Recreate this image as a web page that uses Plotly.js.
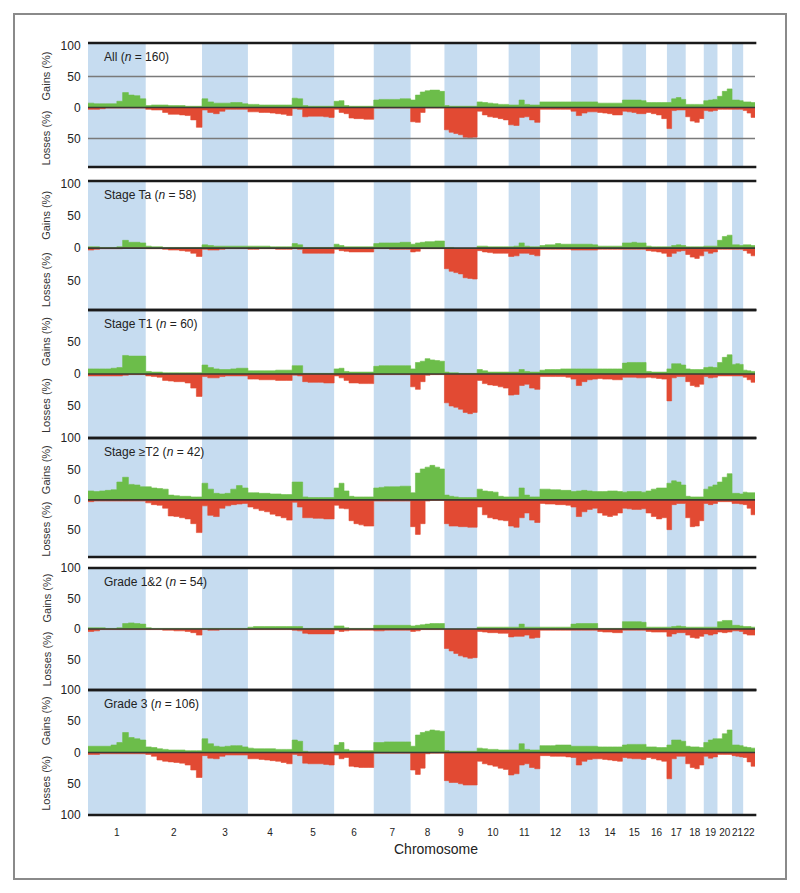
<!DOCTYPE html>
<html>
<head>
<meta charset="utf-8">
<script src="https://cdn.plot.ly/plotly-3.0.1.min.js"></script>
<style>
html,body{margin:0;padding:0;background:#ffffff;}
#chart{width:800px;height:893px;}
</style>
</head>
<body>
<div id="chart"></div>
<script>
// ---------------- DATA ----------------
const chromLabels = ['1','2','3','4','5','6','7','8','9','10','11','12','13','14','15','16','17','18','19','20','21','22'];
const chromLengthsMb = [249,243,198,191,181,171,159,146,141,136,135,134,115,107,102,90,81,78,59,63,48,51];
// number of equal-width segments each chromosome's profile is read at
const binsPerChrom = [10,10,8,8,8,8,7,7,7,6,6,6,5,5,5,4,4,4,3,3,3,3];

const panelNames = ['All','Stage Ta','Stage T1','Stage \u2265T2','Grade 1&2','Grade 3'];
const panelN = [160,58,60,42,54,106];

// Percent of tumours with gain / loss, per chromosome segment
const gainsAll = [
 [7,6,6,6,6,10,24,20,19,14],[3,4,4,4,3,3,3,2,2,2],[14,9,7,7,7,8,8,6],[5,5,4,4,4,4,4,4],
 [15,14,3,2,2,2,2,2],[10,11,3,2,2,2,2,2],[12,13,13,13,13,14,14],[12,20,25,27,28,28,26],
 [3,2,2,2,2,2,2],[9,8,7,6,5,5],[4,4,12,5,4,4],[9,9,9,9,9,9],[9,9,9,9,9],[7,7,7,7,7],
 [12,12,12,12,11],[8,8,8,8],[8,14,16,13],[5,5,5,5],[11,12,13],[18,26,30],[12,12,11],[9,9,8]
];
const lossesAll = [
 [3,3,2,1,1,1,1,1,1,1],[3,4,4,8,11,11,12,13,20,32],[4,8,10,6,3,3,3,3],[7,7,8,8,9,10,11,13],
 [2,3,15,14,14,14,15,16],[3,8,10,17,18,18,19,19],[1,1,1,1,1,1,1],[23,24,8,1,1,1,1],
 [36,40,42,44,48,49,48],[6,12,15,16,18,20],[28,29,16,15,20,24],[3,3,3,3,3,3],[6,13,9,7,7],
 [8,9,10,12,12],[6,7,8,10,10],[8,10,12,18],[34,5,4,4],[15,22,24,18],[5,6,5],[3,3,3],[3,3,3],[5,9,16]
];

const gainsTa = [
 [2,2,1,1,1,2,12,9,9,8],[3,2,2,1,1,1,1,1,1,1],[5,4,3,3,3,3,3,3],[3,3,3,3,2,2,2,2],
 [7,5,1,1,1,1,1,1],[6,4,2,2,2,2,2,2],[7,8,8,8,8,9,9],[6,8,9,10,10,11,11],
 [1,1,0,0,0,0,0],[3,3,2,2,2,2],[2,3,8,3,2,2],[4,5,5,7,6,6],[6,6,6,6,5],[3,3,3,3,3],
 [8,8,9,8,8],[3,2,2,2],[2,4,5,4],[2,2,2,2],[3,3,3],[12,18,20],[5,5,4],[5,5,4]
];
const lossesTa = [
 [3,2,1,1,1,1,0,0,0,0],[1,1,1,2,3,3,4,5,8,13],[2,3,3,2,1,1,1,1],[2,2,1,1,1,2,2,2],
 [1,2,8,8,8,8,8,8],[2,4,5,6,6,6,6,6],[1,1,1,2,2,2,2],[6,5,1,1,1,1,1],
 [32,36,38,40,46,47,48],[4,6,7,8,8,8],[13,12,8,8,10,12],[2,2,2,2,2,2],[3,3,3,3,3],
 [2,2,2,2,2],[2,2,2,2,2],[4,5,6,8],[13,8,5,4],[10,14,16,12],[5,8,6],[2,2,2],[2,2,2],[4,8,12]
];

const gainsT1 = [
 [8,8,8,8,9,10,29,28,28,28],[4,3,3,2,2,2,2,2,2,2],[14,10,8,7,7,8,9,9],[5,5,5,5,5,6,6,6],
 [13,13,1,1,1,1,1,1],[8,9,4,3,3,3,3,3],[12,13,13,13,13,13,13],[8,18,20,24,22,21,20],
 [3,2,2,1,1,1,1],[7,5,3,3,3,3],[3,3,7,4,3,3],[6,7,7,7,8,8],[8,8,8,8,8],[8,8,8,8,8],
 [17,18,18,18,18],[4,3,3,3],[8,16,16,14],[8,7,7,7],[10,11,10],[18,26,30],[15,16,15],[6,5,4]
];
const lossesT1 = [
 [3,3,3,3,3,3,2,1,1,1],[3,4,5,10,11,12,12,14,22,35],[4,6,6,4,3,3,3,3],[8,8,9,9,9,10,10,10],
 [2,3,12,13,13,13,14,14],[3,6,10,14,14,15,15,15],[1,1,1,1,1,1,1],[20,24,12,2,1,1,1],
 [45,50,52,55,60,62,60],[10,15,17,18,20,22],[33,32,18,16,22,24],[4,4,4,4,4,5],[8,18,12,9,8],
 [7,8,8,9,9],[5,5,5,6,6],[5,6,7,8],[42,6,4,4],[12,18,20,16],[4,6,5],[3,3,3],[3,3,3],[5,9,13]
];

const gainsT2 = [
 [15,14,15,16,17,30,38,26,25,22],[22,20,19,18,8,7,6,6,5,5],[28,18,11,10,11,18,24,20],[12,12,11,11,10,10,9,9],
 [30,30,5,4,4,4,4,4],[20,28,15,6,5,5,5,5],[20,21,22,22,22,23,23],[12,45,52,55,58,55,52],
 [8,6,5,4,4,4,4],[18,15,14,13,6,5],[5,5,20,8,5,5],[18,18,17,17,16,16],[14,15,16,15,14],
 [14,14,15,15,14],[13,14,14,14,13],[15,18,20,20],[28,32,30,25],[6,5,5,5],[18,22,25],[30,38,44],[11,11,10],[13,12,12]
];
const lossesT2 = [
 [3,2,2,2,2,2,2,2,2,2],[5,8,9,14,27,28,30,32,40,55],[10,26,28,14,10,8,7,6],[12,15,18,20,24,27,30,34],
 [4,12,30,30,31,31,32,32],[9,14,15,35,40,42,44,44],[2,2,2,2,2,2,2],[45,58,40,2,1,1,1],
 [40,44,44,45,45,46,46],[12,25,30,32,34,35],[44,46,30,22,34,38],[6,7,7,8,8,9],[12,28,20,16,14],
 [22,26,28,26,22],[14,15,16,16,15],[22,28,32,30],[50,8,6,6],[30,45,44,35],[6,8,6],[3,3,3],[6,6,7],[8,14,25]
];

const gainsG12 = [
 [2,2,2,1,1,2,9,10,9,8],[2,1,1,1,1,1,1,1,1,1],[1,1,1,1,1,1,1,1],[3,4,4,4,4,4,4,4],
 [4,4,1,1,1,1,1,1],[5,5,2,1,1,1,1,1],[6,6,6,6,6,6,6],[5,6,7,8,9,9,9],
 [0,0,0,0,0,0,0],[3,3,3,3,3,3],[3,3,8,3,3,3],[3,3,3,3,3,3],[8,9,9,9,9],[1,1,1,1,1],
 [12,12,12,12,11],[3,3,3,3],[3,4,5,4],[3,3,3,3],[3,3,3],[12,14,14],[6,6,5],[4,4,3]
];
const lossesG12 = [
 [4,3,1,1,1,1,1,1,1,1],[1,1,1,2,2,3,3,4,6,10],[1,2,2,1,1,1,1,1],[1,1,1,1,1,1,1,1],
 [2,3,7,8,8,8,8,8],[2,4,3,2,2,2,2,2],[3,3,2,2,2,2,2],[4,3,1,1,1,1,1],
 [32,36,40,44,46,48,47],[4,5,6,6,7,7],[13,12,12,10,15,14],[2,2,2,2,2,2],[2,2,2,2,2],
 [4,5,5,6,6],[2,2,2,2,2],[4,5,5,5],[12,8,6,6],[10,14,15,12],[8,10,8],[5,6,5],[3,3,4],[8,10,10]
];

const gainsG3 = [
 [10,10,10,10,12,16,32,24,22,20],[9,8,6,5,4,4,4,3,3,3],[22,14,10,9,10,11,11,9],[7,6,6,6,6,5,5,5],
 [20,18,2,1,1,1,1,1],[12,16,5,3,3,3,3,3],[16,16,17,17,17,17,17],[10,28,32,34,36,35,34],
 [3,2,2,2,2,2,2],[7,6,5,5,4,4],[4,4,14,5,4,4],[11,11,11,12,12,12],[10,10,10,10,10],
 [9,9,9,9,9],[12,13,13,13,13],[9,9,8,8],[12,20,20,18],[10,9,9,8],[16,20,22],[22,30,36],[12,12,11],[9,8,7]
];
const lossesG3 = [
 [3,3,2,2,2,2,2,2,2,2],[3,6,12,14,15,16,17,20,28,40],[5,9,10,6,4,4,4,4],[10,10,11,12,13,14,16,18],
 [3,5,17,18,18,18,19,20],[4,10,8,22,23,24,24,24],[1,1,1,1,1,1,1],[28,35,25,2,1,1,1],
 [45,48,48,50,52,52,52],[14,18,20,22,25,27],[36,34,20,18,24,26],[5,5,6,6,6,7],[8,20,14,11,10],
 [10,11,12,13,14],[8,9,10,10,11],[8,10,12,14],[42,10,6,6],[18,24,26,20],[6,9,7],[3,3,3],[5,6,7],[8,15,22]
];

const yTickVals = [100,50,0,-50,-100];
const yTickText = ['100','50','0','50','100'];

// ---------------- LAYOUT / STYLE ----------------
const gainsBy = [gainsAll,gainsTa,gainsT1,gainsT2,gainsG12,gainsG3];
const lossesBy = [lossesAll,lossesTa,lossesT1,lossesT2,lossesG12,lossesG3];

const W = 800, H = 893;
const PL = 88, PR = 755, PT = 43, PB = 815;
const panelPx = [[43,167],[181,310],[310,438],[438,557],[568,690],[690,815]];
const panelRange = [[-96,104],[-96,104],[-100,100],[-96,104],[-100,100],[-100,100]];
const showTop100 = [true,true,false,false,true,false];

const GREEN = '#6cbd4a', RED = '#e24a33', BLUE = '#c6dcf0';
const FONT = 'Liberation Sans, Arial, Helvetica, sans-serif';

const starts = [];
let acc = 0;
chromLengthsMb.forEach(L => { starts.push(acc); acc += L; });
const genomeLen = acc;
const centers = chromLengthsMb.map((L,i) => starts[i] + L/2);

function stepXY(perChrom, sign) {
  const xs = [], ys = [];
  perChrom.forEach((vals, c) => {
    const n = binsPerChrom[c], L = chromLengthsMb[c];
    for (let i = 0; i < n; i++) {
      xs.push(starts[c] + i * L / n);
      ys.push(sign * vals[i]);
    }
  });
  xs.push(genomeLen);
  const last = perChrom[perChrom.length-1];
  ys.push(sign * last[last.length-1]);
  return {xs, ys};
}

const plotH = PB - PT;
const pxToPaperY = py => (PB - py) / plotH;
const pxToPaperX = px => (px - PL) / (PR - PL);

const traces = [];
const shapes = [];
const annotations = [];
const layout = {
  width: W, height: H,
  margin: {l: PL, r: W - PR, t: PT, b: H - PB, pad: 0},
  paper_bgcolor: '#ffffff', plot_bgcolor: 'rgba(0,0,0,0)',
  showlegend: false,
  font: {family: FONT, color: '#222'},
  xaxis: {
    domain: [0,1], range: [0, genomeLen], anchor: 'y6',
    tickmode: 'array', tickvals: centers, ticktext: chromLabels, tickangle: 0,
    showgrid: false, zeroline: false, showline: false,
    ticks: 'outside', ticklen: 8, tickcolor: 'rgba(0,0,0,0)',
    tickfont: {size: 10, family: FONT, color: '#222'},
    fixedrange: true
  }
};

for (let k = 0; k < 6; k++) {
  const yid = k === 0 ? 'y' : 'y' + (k+1);
  const yname = k === 0 ? 'yaxis' : 'yaxis' + (k+1);
  const [top, bot] = panelPx[k];
  const tv = showTop100[k] ? yTickVals : yTickVals.slice(1);
  const tt = showTop100[k] ? yTickText : yTickText.slice(1);
  layout[yname] = {
    domain: [pxToPaperY(bot), pxToPaperY(top)],
    range: panelRange[k], anchor: 'x',
    tickmode: 'array', tickvals: tv, ticktext: tt,
    showgrid: false, zeroline: false, showline: false,
    ticks: 'outside', ticklen: 4, tickcolor: 'rgba(0,0,0,0)',
    tickfont: {size: 12, family: FONT, color: '#222'},
    fixedrange: true
  };

  const g = stepXY(gainsBy[k], 1);
  const l = stepXY(lossesBy[k], -1);
  traces.push({x: g.xs, y: g.ys, type: 'scatter', mode: 'lines', xaxis: 'x', yaxis: yid,
    line: {shape: 'hv', width: 0.6, color: GREEN}, fill: 'tozeroy', fillcolor: GREEN, hoverinfo: 'skip'});
  traces.push({x: l.xs, y: l.ys, type: 'scatter', mode: 'lines', xaxis: 'x', yaxis: yid,
    line: {shape: 'hv', width: 0.6, color: RED}, fill: 'tozeroy', fillcolor: RED, hoverinfo: 'skip'});

  // chromosome bands (odd chromosomes shaded)
  for (let c = 0; c < chromLengthsMb.length; c += 2) {
    shapes.push({type: 'rect', layer: 'below', xref: 'x', yref: yid + ' domain',
      x0: starts[c], x1: starts[c] + chromLengthsMb[c], y0: 0, y1: 1,
      fillcolor: BLUE, line: {width: 0}});
  }
  // 50 % lines in the first panel
  if (k === 0) {
    [50,-50].forEach(v => shapes.push({type: 'line', layer: 'above', xref: 'paper', yref: yid,
      x0: 0, x1: 1, y0: v, y1: v, line: {color: '#7a7a7a', width: 1.5}}));
  }
  // zero line
  shapes.push({type: 'line', layer: 'above', xref: 'paper', yref: yid,
    x0: 0, x1: 1, y0: 0, y1: 0, line: {color: '#3a3a35', width: 1.6}});
  // panel top and bottom lines
  [0,1].forEach(v => shapes.push({type: 'line', layer: 'above', xref: 'paper', yref: yid + ' domain',
    x0: 0, x1: 1.002, y0: v, y1: v, line: {color: '#1a1a1a', width: 2.4}}));

  annotations.push({xref: 'paper', yref: yid + ' domain', x: pxToPaperX(102), y: 1,
    xanchor: 'left', yanchor: 'top', yshift: -5, showarrow: false,
    text: panelNames[k] + ' (<i>n</i> = ' + panelN[k] + ')',
    font: {size: 12, family: FONT, color: '#222'}});
  annotations.push({xref: 'paper', yref: yid, x: pxToPaperX(46), y: 50,
    xanchor: 'center', yanchor: 'middle', textangle: -90, showarrow: false,
    text: 'Gains (%)', font: {size: 11, family: FONT, color: '#333'}});
  annotations.push({xref: 'paper', yref: yid, x: pxToPaperX(46), y: -50,
    xanchor: 'center', yanchor: 'middle', textangle: -90, showarrow: false,
    text: 'Losses (%)', font: {size: 11, family: FONT, color: '#333'}});
}

annotations.push({xref: 'paper', yref: 'paper', x: pxToPaperX(436), y: pxToPaperY(849),
  xanchor: 'center', yanchor: 'middle', showarrow: false,
  text: 'Chromosome', font: {size: 14, family: FONT, color: '#222'}});

// outer frame
shapes.push({type: 'rect', layer: 'above', xref: 'paper', yref: 'paper',
  x0: pxToPaperX(14), x1: pxToPaperX(786), y0: pxToPaperY(879), y1: pxToPaperY(14),
  fillcolor: 'rgba(0,0,0,0)', line: {color: '#8a8a8a', width: 2}});

layout.shapes = shapes;
layout.annotations = annotations;

Plotly.newPlot('chart', traces, layout, {staticPlot: true, displayModeBar: false});
</script>
</body>
</html>
